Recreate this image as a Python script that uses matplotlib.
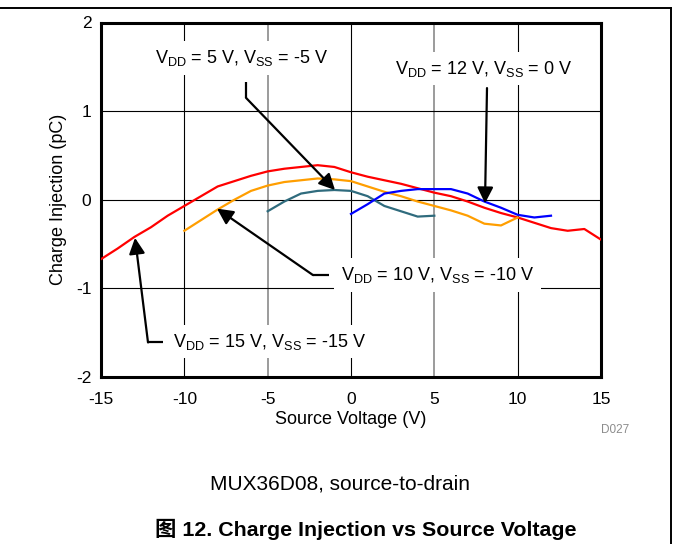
import numpy as np
import matplotlib
matplotlib.use("Agg")
import matplotlib.pyplot as plt
from matplotlib.lines import Line2D

plt.rcParams['font.family'] = ['Liberation Sans', 'Noto Sans CJK SC', 'DejaVu Sans']
plt.rcParams['axes.unicode_minus'] = False

# ── data ─────────────────────────────────────────────────────────────────────
v15_x = np.arange(-15, 16)
v15_q = [-0.67, -0.55, -0.42, -0.31, -0.18, -0.07, 0.04, 0.15, 0.21, 0.27,
         0.32, 0.35, 0.37, 0.39, 0.37, 0.31, 0.26, 0.22, 0.18, 0.13,
         0.08, 0.04, -0.02, -0.09, -0.15, -0.20, -0.26, -0.32, -0.35, -0.33, -0.45]

v10_x = np.arange(-10, 11)
v10_q = [-0.35, -0.23, -0.11, 0.00, 0.10, 0.16, 0.20, 0.22, 0.24, 0.23,
         0.21, 0.15, 0.09, 0.04, -0.02, -0.07, -0.12, -0.18, -0.27, -0.29, -0.20]

v5_x = np.arange(-5, 6)
v5_q = [-0.13, -0.02, 0.07, 0.10, 0.11, 0.10, 0.04, -0.07, -0.13, -0.19, -0.18]

v12_x = np.arange(0, 13)
v12_q = [-0.16, -0.05, 0.07, 0.10, 0.12, 0.12, 0.12, 0.07, -0.02, -0.09, -0.17, -0.20, -0.18]

x_ticks = [-15, -10, -5, 0, 5, 10, 15]
y_ticks = [-2, -1, 0, 1, 2]

RED, ORANGE, TEAL, BLUE = "#FF0000", "#FF9E00", "#2F6B7D", "#0000FF"

fig = plt.figure(figsize=(6.73, 5.44), dpi=100)
ax = fig.add_axes([101 / 673, 1 - 377 / 544, 500 / 673, 354.5 / 544])

# grid: black at -10/0/10, grey at -5/5
for xv in x_ticks[1:-1]:
    c = "#808080" if xv in (-5, 5) else "black"
    lw = 1.1 if xv in (-5, 5) else 0.8
    ax.axvline(xv, color=c, lw=lw, zorder=0)
for yv in y_ticks[1:-1]:
    ax.axhline(yv, color="black", lw=0.8, zorder=0)

ax.plot(v15_x, v15_q, color=RED, lw=1.6, zorder=3)
ax.plot(v10_x, v10_q, color=ORANGE, lw=1.6, zorder=3)
ax.plot(v5_x, v5_q, color=TEAL, lw=1.6, zorder=3)
ax.plot(v12_x, v12_q, color=BLUE, lw=1.6, zorder=3)

ax.set_xlim(-15, 15)
ax.set_ylim(-2, 2)
ax.set_xticks(x_ticks)
ax.set_yticks(y_ticks)
ax.tick_params(length=0, labelsize=12.5)
ax.tick_params(axis="x", pad=11)
ax.tick_params(axis="y", pad=7)
for s in ax.spines.values():
    s.set_linewidth(2.2)
ax.set_xlabel("Source Voltage (V)", fontsize=13, labelpad=3)
ax.set_ylabel("Charge Injection (pC)", fontsize=13, labelpad=6)

box = dict(facecolor="white", edgecolor="none", pad=5)
arrow = dict(arrowstyle="-|>", color="black", lw=1.6, mutation_scale=24,
             shrinkA=0, shrinkB=0)


def callout(label, xy_text, path, tip):
    ax.text(*xy_text, label, fontsize=13, ha="center", va="center",
            bbox=box, zorder=5)
    px = [p[0] for p in path]
    py = [p[1] for p in path]
    ax.plot(px, py, color="black", lw=1.6, zorder=4, solid_capstyle="butt")
    ax.annotate("", xy=tip, xytext=path[-1], arrowprops=arrow, zorder=4)


callout(r"V$_\mathregular{DD}$ = 5 V, V$_\mathregular{SS}$ = -5 V",
        (-6.55, 1.60), [(-6.3, 1.33), (-6.3, 1.15)], (-0.96, 0.11))
callout(r"V$_\mathregular{DD}$ = 12 V, V$_\mathregular{SS}$ = 0 V",
        (7.98, 1.48), [(8.16, 1.26)], (8.04, -0.04))
callout(r"V$_\mathregular{DD}$ = 10 V, V$_\mathregular{SS}$ = -10 V",
        (5.2, -0.85), [(-1.3, -0.85), (-2.28, -0.85)], (-8.04, -0.10))
callout(r"V$_\mathregular{DD}$ = 15 V, V$_\mathregular{SS}$ = -15 V",
        (-4.9, -1.60), [(-11.28, -1.61), (-12.18, -1.61)], (-12.96, -0.43))

fig.text(615 / 673, 1 - 430 / 544, "D027", fontsize=8.5, color="#8C8C8C",
         ha="center", va="center")
fig.text(340 / 673, 1 - 484 / 544, "MUX36D08, source-to-drain", fontsize=15,
         ha="center", va="center")
fig.text(366 / 673, 1 - 529 / 544, "图 12. Charge Injection vs Source Voltage",
         fontsize=15.4, fontweight="bold", ha="center", va="center")

# page frame lines
fig.add_artist(Line2D([0, 671 / 673], [1 - 7.5 / 544] * 2, color="black", lw=1.4))
fig.add_artist(Line2D([671 / 673] * 2, [0, 1 - 7.5 / 544], color="black", lw=1.4))

fig.savefig("out.png", dpi=100)
